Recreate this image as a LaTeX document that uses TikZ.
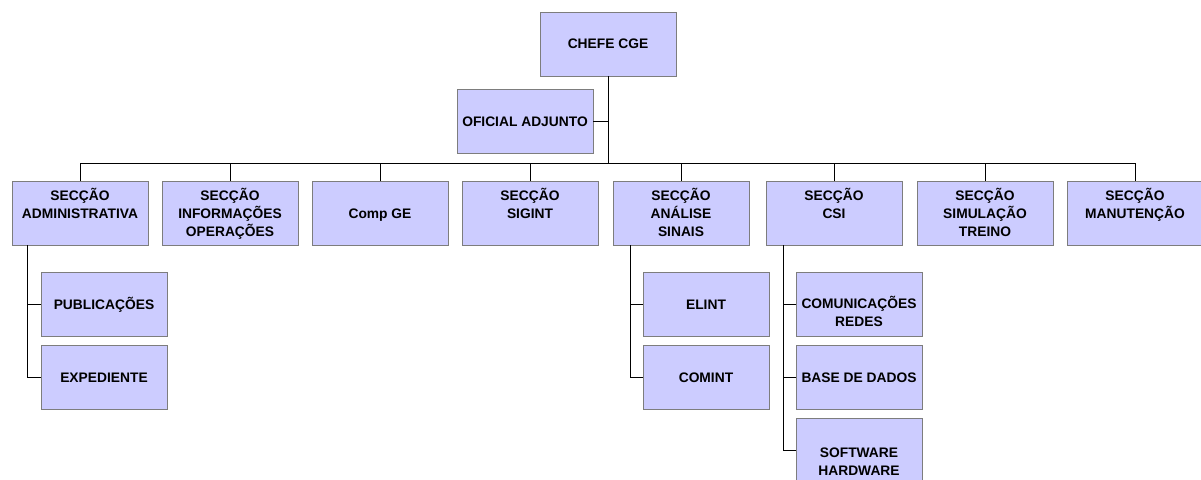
\documentclass[tikz,border=0pt]{standalone}
\usepackage{fontspec}
\setmainfont{Liberation Sans}
\definecolor{boxfill}{RGB}{204,204,255}
\definecolor{boxline}{RGB}{125,125,125}
% text of a box: width, baseline of the first line below the top, lines
\newcommand\orgtxt[3]{\parbox[t][64pt][t]{#1}{\centering\rule{0pt}{#2}#3}}
\tikzset{
  orgbox/.style={draw=boxline, fill=boxfill, line width=1pt, inner sep=0pt,
    outer sep=0pt, anchor=north west, font=\bfseries\fontsize{13.8}{18}\selectfont},
  link/.style={draw=black, line width=0.9pt}
}
\begin{document}
\begin{tikzpicture}[x=1pt, y=-1pt]
\useasboundingbox (0,0) rectangle (1201,479);
\clip (0,0) rectangle (1201,479);

% top
\node[orgbox] (chefe) at (540,12) {\orgtxt{136pt}{36pt}{CHEFE CGE}};
\node[orgbox] (adj) at (457,89) {\orgtxt{136pt}{37pt}{OFICIAL ADJUNTO}};

% sections
\node[orgbox] (adm) at (12,181) {\orgtxt{136pt}{19pt}{SECÇÃO\\ADMINISTRATIVA}};
\node[orgbox] (inf) at (162,181) {\orgtxt{136pt}{19pt}{SECÇÃO\\INFORMAÇÕES\\OPERAÇÕES}};
\node[orgbox] (cge) at (312,181) {\orgtxt{136pt}{37pt}{Comp GE}};
\node[orgbox] (sig) at (462,181) {\orgtxt{136pt}{19pt}{SECÇÃO\\SIGINT}};
\node[orgbox] (ana) at (613,181) {\orgtxt{136pt}{19pt}{SECÇÃO\\ANÁLISE\\SINAIS}};
\node[orgbox] (csi) at (766,181) {\orgtxt{136pt}{19pt}{SECÇÃO\\CSI}};
\node[orgbox] (sim) at (917,181) {\orgtxt{136pt}{19pt}{SECÇÃO\\SIMULAÇÃO\\TREINO}};
\node[orgbox] (man) at (1067,181) {\orgtxt{136pt}{19pt}{SECÇÃO\\MANUTENÇÃO}};

% sub-units
\node[orgbox] (pub) at (41,272) {\orgtxt{126pt}{37pt}{PUBLICAÇÕES}};
\node[orgbox] (exp) at (41,345) {\orgtxt{126pt}{37pt}{EXPEDIENTE}};
\node[orgbox] (elint) at (643,272) {\orgtxt{126pt}{37pt}{ELINT}};
\node[orgbox] (comint) at (643,345) {\orgtxt{126pt}{37pt}{COMINT}};
\node[orgbox] (com) at (796,272) {\orgtxt{126pt}{36pt}{COMUNICAÇÕES\\REDES}};
\node[orgbox] (bd) at (796,345) {\orgtxt{126pt}{37pt}{BASE DE DADOS}};
\node[orgbox] (sw) at (796,418) {\orgtxt{126pt}{39pt}{SOFTWARE\\HARDWARE}};

% bus and spines
\coordinate (bus) at (0,163);
\coordinate (admS) at (27,0);
\coordinate (anaS) at (630,0);
\coordinate (csiS) at (783,0);

% chief to sections
\draw[link] (chefe.south) -- (chefe.south |- bus);
\draw[link] (adj.east) -- (adj.east -| chefe.south);
\draw[link] (adm.north) -- (adm.north |- bus) -- (man.north |- bus) -- (man.north);
\foreach \s in {inf,cge,sig,ana,csi,sim}
  \draw[link] (\s.north) -- (\s.north |- bus);

% sections to sub-units
\draw[link] (adm.south -| admS) |- (exp.west);
\draw[link] (pub.west) -- (pub.west -| admS);
\draw[link] (ana.south -| anaS) |- (comint.west);
\draw[link] (elint.west) -- (elint.west -| anaS);
\draw[link] (csi.south -| csiS) |- (sw.west);
\draw[link] (com.west) -- (com.west -| csiS);
\draw[link] (bd.west) -- (bd.west -| csiS);
\end{tikzpicture}
\end{document}
